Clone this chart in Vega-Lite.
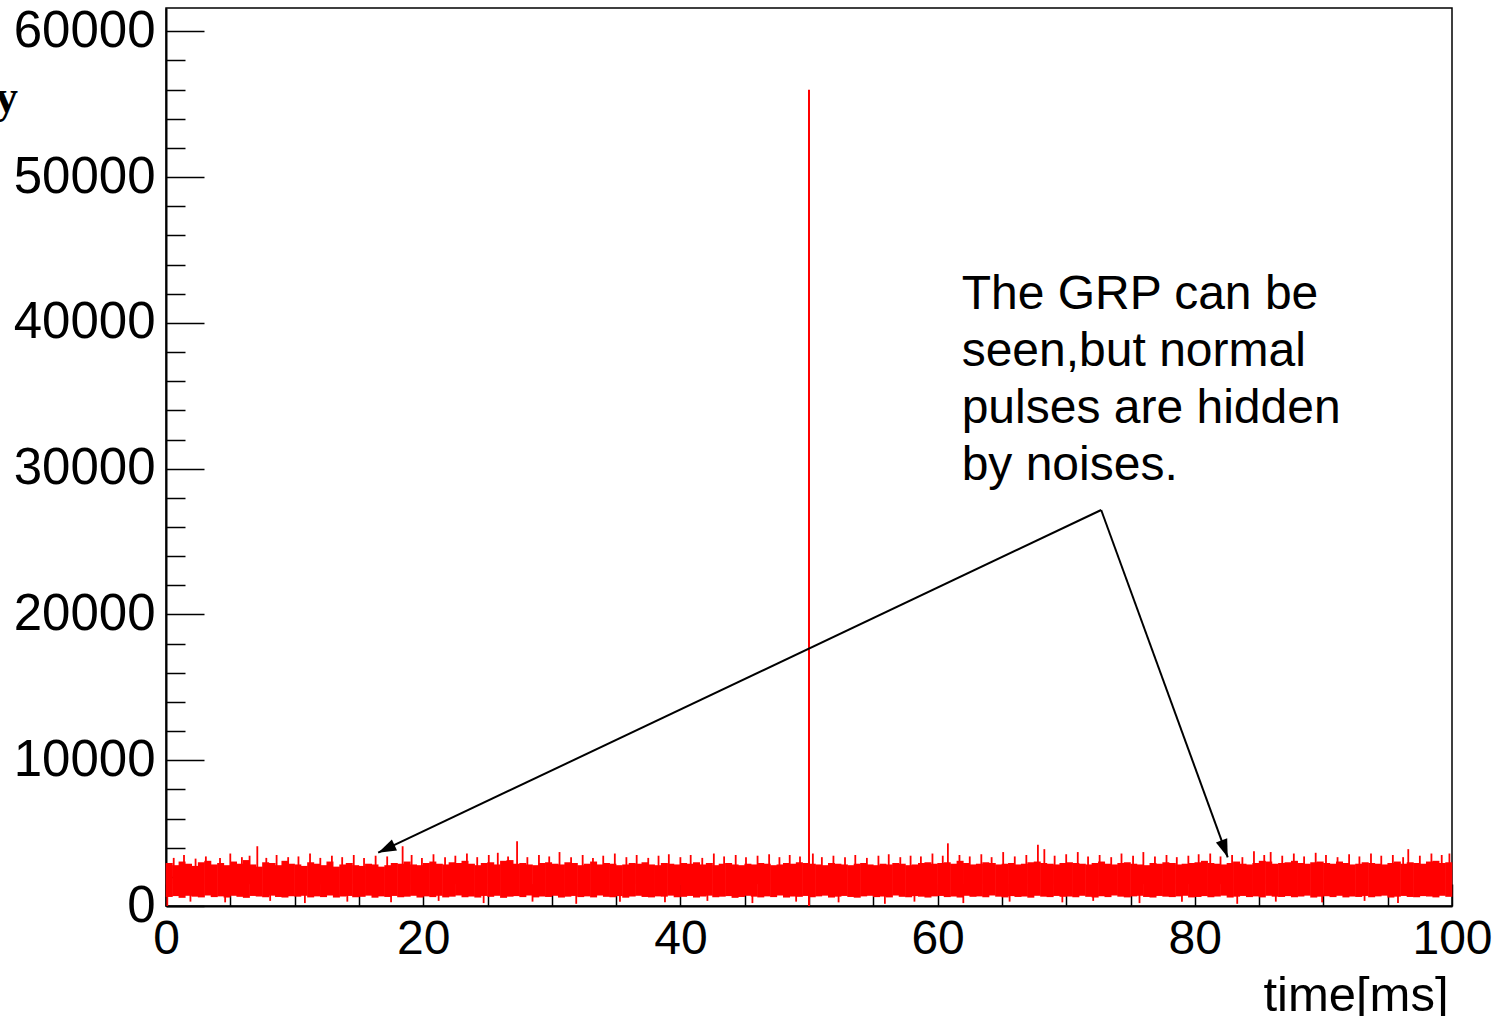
{
  "$schema": "https://vega.github.io/schema/vega-lite/v6.json",
  "autosize": {"type": "none"},
  "padding": {"left": 166, "top": 8, "right": 45, "bottom": 110},
  "width": 1286,
  "height": 898,
  "background": "white",
  "config": {
    "view": {"stroke": "#000", "strokeWidth": 1.5},
    "font": "Liberation Sans",
    "axis": {"grid": false, "domainColor": "#000", "domainWidth": 2, "tickColor": "#000", "tickWidth": 1.5, "labelColor": "#000", "labelFont": "Liberation Sans", "labelFontSize": 48, "labelOverlap": false, "titleFont": "Liberation Sans", "titleColor": "#000", "titleFontWeight": "normal"}
  },
  "datasets": {
    "bins": [
      {"t":0.25,"lo":620,"hi":2950},{"t":0.75,"lo":680,"hi":2800},{"t":1.25,"lo":560,"hi":3050},{"t":1.75,"lo":700,"hi":2900},{"t":2.25,"lo":640,"hi":2750},{"t":2.75,"lo":590,"hi":3000},{"t":3.25,"lo":720,"hi":3100},{"t":3.75,"lo":610,"hi":2850},{"t":4.25,"lo":660,"hi":2950},{"t":4.75,"lo":580,"hi":2800},
      {"t":5.25,"lo":700,"hi":3050},{"t":5.75,"lo":630,"hi":2900},{"t":6.25,"lo":560,"hi":3150},{"t":6.75,"lo":690,"hi":2850},{"t":7.25,"lo":650,"hi":2700},{"t":7.75,"lo":600,"hi":3000},{"t":8.25,"lo":710,"hi":2950},{"t":8.75,"lo":620,"hi":2800},{"t":9.25,"lo":580,"hi":3100},{"t":9.75,"lo":670,"hi":2900},
      {"t":10.25,"lo":640,"hi":2850},{"t":10.75,"lo":700,"hi":2750},{"t":11.25,"lo":590,"hi":3000},{"t":11.75,"lo":660,"hi":2900},{"t":12.25,"lo":610,"hi":2800},{"t":12.75,"lo":720,"hi":3050},{"t":13.25,"lo":580,"hi":2700},{"t":13.75,"lo":650,"hi":2850},{"t":14.25,"lo":690,"hi":2950},{"t":14.75,"lo":600,"hi":2800},
      {"t":15.25,"lo":630,"hi":2750},{"t":15.75,"lo":710,"hi":2900},{"t":16.25,"lo":570,"hi":2850},{"t":16.75,"lo":660,"hi":2700},{"t":17.25,"lo":620,"hi":2800},{"t":17.75,"lo":690,"hi":2950},{"t":18.25,"lo":600,"hi":2900},{"t":18.75,"lo":640,"hi":3050},{"t":19.25,"lo":700,"hi":2850},{"t":19.75,"lo":580,"hi":2800},
      {"t":20.25,"lo":660,"hi":2950},{"t":20.75,"lo":610,"hi":3050},{"t":21.25,"lo":700,"hi":2900},{"t":21.75,"lo":590,"hi":2850},{"t":22.25,"lo":640,"hi":3000},{"t":22.75,"lo":720,"hi":2950},{"t":23.25,"lo":600,"hi":3100},{"t":23.75,"lo":650,"hi":2900},{"t":24.25,"lo":580,"hi":2800},{"t":24.75,"lo":690,"hi":2950},
      {"t":25.25,"lo":630,"hi":3000},{"t":25.75,"lo":700,"hi":2850},{"t":26.25,"lo":560,"hi":3100},{"t":26.75,"lo":640,"hi":3150},{"t":27.25,"lo":680,"hi":2900},{"t":27.75,"lo":610,"hi":2950},{"t":28.25,"lo":720,"hi":2850},{"t":28.75,"lo":590,"hi":2800},{"t":29.25,"lo":650,"hi":2950},{"t":29.75,"lo":620,"hi":3000},
      {"t":30.25,"lo":700,"hi":2900},{"t":30.75,"lo":580,"hi":2850},{"t":31.25,"lo":640,"hi":3000},{"t":31.75,"lo":690,"hi":2950},{"t":32.25,"lo":610,"hi":2800},{"t":32.75,"lo":660,"hi":2900},{"t":33.25,"lo":590,"hi":3050},{"t":33.75,"lo":720,"hi":2850},{"t":34.25,"lo":630,"hi":2950},{"t":34.75,"lo":600,"hi":2900},
      {"t":35.25,"lo":680,"hi":2800},{"t":35.75,"lo":570,"hi":2850},{"t":36.25,"lo":650,"hi":2950},{"t":36.75,"lo":700,"hi":2900},{"t":37.25,"lo":620,"hi":3000},{"t":37.75,"lo":590,"hi":2850},{"t":38.25,"lo":660,"hi":2800},{"t":38.75,"lo":640,"hi":2950},{"t":39.25,"lo":710,"hi":2900},{"t":39.75,"lo":600,"hi":2850},
      {"t":40.25,"lo":630,"hi":2950},{"t":40.75,"lo":690,"hi":2900},{"t":41.25,"lo":580,"hi":3000},{"t":41.75,"lo":650,"hi":2850},{"t":42.25,"lo":710,"hi":2950},{"t":42.75,"lo":600,"hi":2800},{"t":43.25,"lo":640,"hi":2900},{"t":43.75,"lo":680,"hi":2950},{"t":44.25,"lo":560,"hi":2850},{"t":44.75,"lo":620,"hi":2800},
      {"t":45.25,"lo":700,"hi":2900},{"t":45.75,"lo":640,"hi":2850},{"t":46.25,"lo":590,"hi":2950},{"t":46.75,"lo":660,"hi":2900},{"t":47.25,"lo":610,"hi":2800},{"t":47.75,"lo":720,"hi":2850},{"t":48.25,"lo":580,"hi":2950},{"t":48.75,"lo":650,"hi":2900},{"t":49.25,"lo":630,"hi":3000},{"t":49.75,"lo":690,"hi":2950},
      {"t":50.25,"lo":600,"hi":2900},{"t":50.75,"lo":660,"hi":2850},{"t":51.25,"lo":710,"hi":2800},{"t":51.75,"lo":580,"hi":2950},{"t":52.25,"lo":640,"hi":2900},{"t":52.75,"lo":690,"hi":2850},{"t":53.25,"lo":620,"hi":2800},{"t":53.75,"lo":570,"hi":2900},{"t":54.25,"lo":660,"hi":2950},{"t":54.75,"lo":700,"hi":2850},
      {"t":55.25,"lo":610,"hi":2800},{"t":55.75,"lo":650,"hi":2900},{"t":56.25,"lo":590,"hi":2850},{"t":56.75,"lo":720,"hi":2950},{"t":57.25,"lo":630,"hi":2900},{"t":57.75,"lo":600,"hi":2800},{"t":58.25,"lo":680,"hi":2850},{"t":58.75,"lo":640,"hi":2950},{"t":59.25,"lo":580,"hi":3000},{"t":59.75,"lo":660,"hi":2900},
      {"t":60.25,"lo":690,"hi":2950},{"t":60.75,"lo":610,"hi":3000},{"t":61.25,"lo":650,"hi":2900},{"t":61.75,"lo":580,"hi":3100},{"t":62.25,"lo":700,"hi":2950},{"t":62.75,"lo":630,"hi":2850},{"t":63.25,"lo":660,"hi":2900},{"t":63.75,"lo":600,"hi":3000},{"t":64.25,"lo":720,"hi":2950},{"t":64.75,"lo":640,"hi":2850},
      {"t":65.25,"lo":590,"hi":2900},{"t":65.75,"lo":680,"hi":2950},{"t":66.25,"lo":620,"hi":2850},{"t":66.75,"lo":650,"hi":2900},{"t":67.25,"lo":570,"hi":3000},{"t":67.75,"lo":700,"hi":3050},{"t":68.25,"lo":640,"hi":2950},{"t":68.75,"lo":610,"hi":2900},{"t":69.25,"lo":690,"hi":2850},{"t":69.75,"lo":630,"hi":2950},
      {"t":70.25,"lo":650,"hi":3000},{"t":70.75,"lo":600,"hi":2950},{"t":71.25,"lo":700,"hi":2900},{"t":71.75,"lo":630,"hi":2850},{"t":72.25,"lo":580,"hi":2950},{"t":72.75,"lo":670,"hi":3050},{"t":73.25,"lo":610,"hi":2900},{"t":73.75,"lo":720,"hi":2850},{"t":74.25,"lo":640,"hi":2950},{"t":74.75,"lo":590,"hi":3000},
      {"t":75.25,"lo":660,"hi":2900},{"t":75.75,"lo":700,"hi":2850},{"t":76.25,"lo":620,"hi":2800},{"t":76.75,"lo":580,"hi":2950},{"t":77.25,"lo":690,"hi":2900},{"t":77.75,"lo":640,"hi":3000},{"t":78.25,"lo":610,"hi":2950},{"t":78.75,"lo":660,"hi":2850},{"t":79.25,"lo":700,"hi":2900},{"t":79.75,"lo":590,"hi":2950},
      {"t":80.25,"lo":620,"hi":3000},{"t":80.75,"lo":680,"hi":3100},{"t":81.25,"lo":600,"hi":2950},{"t":81.75,"lo":650,"hi":2900},{"t":82.25,"lo":710,"hi":2850},{"t":82.75,"lo":580,"hi":2950},{"t":83.25,"lo":640,"hi":3050},{"t":83.75,"lo":690,"hi":2900},{"t":84.25,"lo":610,"hi":2850},{"t":84.75,"lo":660,"hi":2950},
      {"t":85.25,"lo":590,"hi":3100},{"t":85.75,"lo":700,"hi":3050},{"t":86.25,"lo":640,"hi":2900},{"t":86.75,"lo":620,"hi":2950},{"t":87.25,"lo":680,"hi":3000},{"t":87.75,"lo":600,"hi":3100},{"t":88.25,"lo":650,"hi":2950},{"t":88.75,"lo":710,"hi":2900},{"t":89.25,"lo":580,"hi":3000},{"t":89.75,"lo":640,"hi":3050},
      {"t":90.25,"lo":670,"hi":2950},{"t":90.75,"lo":610,"hi":2900},{"t":91.25,"lo":700,"hi":3050},{"t":91.75,"lo":590,"hi":2950},{"t":92.25,"lo":650,"hi":2850},{"t":92.75,"lo":620,"hi":2900},{"t":93.25,"lo":690,"hi":3000},{"t":93.75,"lo":600,"hi":2950},{"t":94.25,"lo":660,"hi":2900},{"t":94.75,"lo":710,"hi":2850},
      {"t":95.25,"lo":580,"hi":2950},{"t":95.75,"lo":640,"hi":3050},{"t":96.25,"lo":690,"hi":2900},{"t":96.75,"lo":620,"hi":3000},{"t":97.25,"lo":600,"hi":2950},{"t":97.75,"lo":680,"hi":2900},{"t":98.25,"lo":650,"hi":3050},{"t":98.75,"lo":590,"hi":3100},{"t":99.25,"lo":700,"hi":2950},{"t":99.75,"lo":630,"hi":3000}
    ],
    "spikes": [
      {"t":0.6,"lo":1500,"hi":3300},{"t":1.4,"lo":1500,"hi":3500},{"t":2.3,"lo":1500,"hi":3250},{"t":3.1,"lo":1500,"hi":3400},{"t":4.2,"lo":1500,"hi":3300},{"t":5.0,"lo":1500,"hi":3600},{"t":5.9,"lo":1500,"hi":3350},{"t":6.5,"lo":1500,"hi":3450},{"t":7.1,"lo":1500,"hi":4100},{"t":7.8,"lo":1500,"hi":3300},
      {"t":8.6,"lo":1500,"hi":3500},{"t":9.5,"lo":1500,"hi":3350},{"t":10.3,"lo":1500,"hi":3400},{"t":11.2,"lo":1500,"hi":3600},{"t":12.0,"lo":1500,"hi":3300},{"t":12.9,"lo":1500,"hi":3450},{"t":13.7,"lo":1500,"hi":3350},{"t":14.6,"lo":1500,"hi":3500},{"t":15.4,"lo":1500,"hi":3300},{"t":16.3,"lo":1500,"hi":3450},
      {"t":17.2,"lo":1500,"hi":3400},{"t":18.4,"lo":1500,"hi":4100},{"t":19.1,"lo":1500,"hi":3500},{"t":19.9,"lo":1500,"hi":3300},{"t":20.8,"lo":1500,"hi":3550},{"t":21.7,"lo":1500,"hi":3350},{"t":22.5,"lo":1500,"hi":3450},{"t":23.4,"lo":1500,"hi":3600},{"t":24.2,"lo":1500,"hi":3350},{"t":25.1,"lo":1500,"hi":3500},
      {"t":25.8,"lo":1500,"hi":3650},{"t":26.6,"lo":1500,"hi":3400},{"t":27.3,"lo":1500,"hi":4450},{"t":28.1,"lo":1500,"hi":3350},{"t":29.0,"lo":1500,"hi":3500},{"t":29.8,"lo":1500,"hi":3400},{"t":30.6,"lo":1500,"hi":3700},{"t":31.5,"lo":1500,"hi":3350},{"t":32.4,"lo":1500,"hi":3500},{"t":33.2,"lo":1500,"hi":3300},
      {"t":34.0,"lo":1500,"hi":3450},{"t":34.9,"lo":1500,"hi":3600},{"t":35.8,"lo":1500,"hi":3350},{"t":36.6,"lo":1500,"hi":3500},{"t":37.5,"lo":1500,"hi":3300},{"t":38.3,"lo":1500,"hi":3450},{"t":39.1,"lo":1500,"hi":3550},{"t":40.0,"lo":1500,"hi":3350},{"t":40.8,"lo":1500,"hi":3500},{"t":41.7,"lo":1500,"hi":3300},
      {"t":42.6,"lo":1500,"hi":3600},{"t":43.4,"lo":1500,"hi":3400},{"t":44.3,"lo":1500,"hi":3500},{"t":45.1,"lo":1500,"hi":3350},{"t":46.0,"lo":1500,"hi":3450},{"t":46.9,"lo":1500,"hi":3550},{"t":47.7,"lo":1500,"hi":3350},{"t":48.5,"lo":1500,"hi":3500},{"t":49.3,"lo":1500,"hi":3400},{"t":50.3,"lo":1500,"hi":3600},
      {"t":51.0,"lo":1500,"hi":3350},{"t":51.9,"lo":1500,"hi":3450},{"t":52.8,"lo":1500,"hi":3350},{"t":53.6,"lo":1500,"hi":3500},{"t":54.5,"lo":1500,"hi":3300},{"t":55.4,"lo":1500,"hi":3450},{"t":56.2,"lo":1500,"hi":3550},{"t":57.1,"lo":1500,"hi":3350},{"t":57.9,"lo":1500,"hi":3450},{"t":58.7,"lo":1500,"hi":3400},
      {"t":59.6,"lo":1500,"hi":3600},{"t":60.4,"lo":1500,"hi":3450},{"t":60.8,"lo":1500,"hi":4300},{"t":61.7,"lo":1500,"hi":3500},{"t":62.5,"lo":1500,"hi":3400},{"t":63.4,"lo":1500,"hi":3550},{"t":64.2,"lo":1500,"hi":3350},{"t":65.1,"lo":1500,"hi":3700},{"t":66.0,"lo":1500,"hi":3400},{"t":66.9,"lo":1500,"hi":3500},
      {"t":67.8,"lo":1500,"hi":4200},{"t":68.3,"lo":1500,"hi":3900},{"t":69.1,"lo":1500,"hi":3450},{"t":70.0,"lo":1500,"hi":3550},{"t":70.9,"lo":1500,"hi":3700},{"t":71.7,"lo":1500,"hi":3400},{"t":72.6,"lo":1500,"hi":3500},{"t":73.5,"lo":1500,"hi":3350},{"t":74.3,"lo":1500,"hi":3600},{"t":75.2,"lo":1500,"hi":3450},
      {"t":76.0,"lo":1500,"hi":3700},{"t":76.9,"lo":1500,"hi":3400},{"t":77.8,"lo":1500,"hi":3500},{"t":78.6,"lo":1500,"hi":3350},{"t":79.5,"lo":1500,"hi":3450},{"t":80.3,"lo":1500,"hi":3550},{"t":81.2,"lo":1500,"hi":3600},{"t":82.0,"lo":1500,"hi":3400},{"t":82.9,"lo":1500,"hi":3500},{"t":83.7,"lo":1500,"hi":3350},
      {"t":84.6,"lo":1500,"hi":3750},{"t":85.4,"lo":1500,"hi":3500},{"t":85.9,"lo":1500,"hi":3700},{"t":86.8,"lo":1500,"hi":3450},{"t":87.7,"lo":1500,"hi":3600},{"t":88.5,"lo":1500,"hi":3400},{"t":89.4,"lo":1500,"hi":3650},{"t":90.2,"lo":1500,"hi":3500},{"t":91.1,"lo":1500,"hi":3350},{"t":92.0,"lo":1500,"hi":3550},
      {"t":92.8,"lo":1500,"hi":3400},{"t":93.7,"lo":1500,"hi":3600},{"t":94.5,"lo":1500,"hi":3450},{"t":95.4,"lo":1500,"hi":3500},{"t":96.2,"lo":1500,"hi":3350},{"t":96.6,"lo":1500,"hi":3900},{"t":97.5,"lo":1500,"hi":3450},{"t":98.4,"lo":1500,"hi":3600},{"t":99.2,"lo":1500,"hi":3500},{"t":99.8,"lo":1500,"hi":3600},
      {"t":0.1,"lo":0,"hi":1500},{"t":1.9,"lo":300,"hi":1500},{"t":4.6,"lo":250,"hi":1500},{"t":8.1,"lo":350,"hi":1500},{"t":10.8,"lo":200,"hi":1500},{"t":14.1,"lo":300,"hi":1500},{"t":17.5,"lo":250,"hi":1500},{"t":21.2,"lo":350,"hi":1500},{"t":24.7,"lo":200,"hi":1500},{"t":28.5,"lo":300,"hi":1500},
      {"t":31.9,"lo":150,"hi":1500},{"t":35.3,"lo":300,"hi":1500},{"t":38.8,"lo":250,"hi":1500},{"t":42.1,"lo":350,"hi":1500},{"t":45.6,"lo":200,"hi":1500},{"t":49.0,"lo":300,"hi":1500},{"t":52.3,"lo":250,"hi":1500},{"t":55.9,"lo":150,"hi":1500},{"t":58.2,"lo":300,"hi":1500},{"t":62.0,"lo":200,"hi":1500},
      {"t":65.6,"lo":300,"hi":1500},{"t":69.7,"lo":250,"hi":1500},{"t":72.1,"lo":350,"hi":1500},{"t":75.7,"lo":200,"hi":1500},{"t":79.0,"lo":300,"hi":1500},{"t":83.3,"lo":150,"hi":1500},{"t":86.3,"lo":300,"hi":1500},{"t":89.9,"lo":250,"hi":1500},{"t":93.2,"lo":350,"hi":1500},{"t":95.8,"lo":200,"hi":1500}
    ],
    "grp": [{"t": 50.0, "lo": 0, "hi": 56000}],
    "arrows": [
      {"seg": "a", "t": 72.72, "v": 27164},
      {"seg": "a", "t": 16.5, "v": 3656},
      {"seg": "b", "t": 72.72, "v": 27164},
      {"seg": "b", "t": 82.56, "v": 3341}
    ],
    "heads": [
      {"seg": "a", "t": 16.5, "v": 3656},
      {"seg": "b", "t": 82.56, "v": 3341}
    ],
    "note": [{"t": 61.87, "v": 40952, "txt": "The GRP can be\nseen,but normal\npulses are hidden\nby noises."}]
  },
  "layer": [
    {
      "data": {"name": "bins"},
      "mark": {"type": "rule", "color": "#ff0000", "strokeWidth": 7, "strokeCap": "butt"},
      "encoding": {
        "x": {"field": "t", "type": "quantitative", "scale": {"domain": [0, 100], "nice": false, "zero": false},
          "axis": {"values": [0,5,10,15,20,25,30,35,40,45,50,55,60,65,70,75,80,85,90,95,100],
            "tickCount": 60,
            "labelExpr": "datum.value % 20 === 0 ? datum.label : ''",
            "labelFlush": false, "labelPadding": 31,
            "tickSize": {"condition": {"test": "datum.value % 20 === 0", "value": -22}, "value": -12},
            "title": "time[ms]", "titleFontSize": 49, "titleAnchor": "end", "titleAlign": "right", "titleBaseline": "alphabetic",
            "titleX": 1282, "titleY": 104}},
        "y": {"field": "lo", "type": "quantitative", "scale": {"domain": [0, 61600], "nice": false},
          "axis": {"values": [0,2000,4000,6000,8000,10000,12000,14000,16000,18000,20000,22000,24000,26000,28000,30000,32000,34000,36000,38000,40000,42000,44000,46000,48000,50000,52000,54000,56000,58000,60000],
            "tickCount": 60,
            "format": "d",
            "labelExpr": "datum.value % 10000 === 0 ? datum.label : ''",
            "labelFontSize": 51,
            "labelPadding": 49,
            "tickSize": {"condition": {"test": "datum.value % 10000 === 0", "value": -38}, "value": -19},
            "title": "y", "titleFont": "Liberation Serif", "titleFontWeight": "bold", "titleFontSize": 46,
            "titleAngle": 0, "titleAlign": "center", "titleBaseline": "alphabetic", "titleX": -160, "titleY": 103}},
        "y2": {"field": "hi"}
      }
    },
    {
      "data": {"name": "spikes"},
      "mark": {"type": "rule", "color": "#ff0000", "strokeWidth": 1.8, "strokeCap": "butt"},
      "encoding": {
        "x": {"field": "t", "type": "quantitative"},
        "y": {"field": "lo", "type": "quantitative"},
        "y2": {"field": "hi"}
      }
    },
    {
      "data": {"name": "grp"},
      "mark": {"type": "rule", "color": "#ff0000", "strokeWidth": 2, "strokeCap": "butt"},
      "encoding": {
        "x": {"field": "t", "type": "quantitative"},
        "y": {"field": "lo", "type": "quantitative"},
        "y2": {"field": "hi"}
      }
    },
    {
      "data": {"name": "arrows"},
      "mark": {"type": "line", "color": "#000", "strokeWidth": 2},
      "encoding": {
        "x": {"field": "t", "type": "quantitative"},
        "y": {"field": "v", "type": "quantitative"},
        "detail": {"field": "seg"},
        "order": {"value": 0}
      }
    },
    {
      "data": {"name": "heads"},
      "mark": {"type": "point", "shape": "M0,0L-0.8,2.4L0.8,2.4Z", "filled": true, "color": "#000", "opacity": 1, "size": 225},
      "encoding": {
        "x": {"field": "t", "type": "quantitative"},
        "y": {"field": "v", "type": "quantitative"},
        "angle": {"field": "seg", "type": "nominal", "scale": {"domain": ["a", "b"], "range": [244.65, 160]}, "legend": null}
      }
    },
    {
      "data": {"name": "note"},
      "mark": {"type": "text", "align": "left", "baseline": "alphabetic", "fontSize": 48, "font": "Liberation Sans", "color": "#000", "lineBreak": "\n", "lineHeight": 57},
      "encoding": {
        "x": {"field": "t", "type": "quantitative"},
        "y": {"field": "v", "type": "quantitative"},
        "text": {"field": "txt"}
      }
    }
  ]
}
